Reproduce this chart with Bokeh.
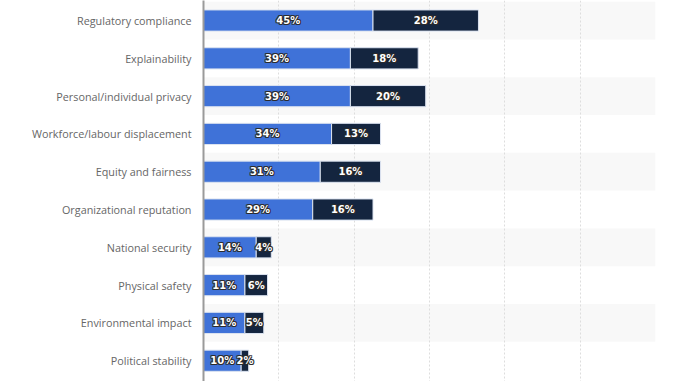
from bokeh.plotting import figure
from bokeh.models import ColumnDataSource, Range1d, FixedTicker
from bokeh.core.properties import value
from bokeh.embed import file_html
from bokeh.resources import INLINE

categories = [
    "Regulatory compliance",
    "Explainability",
    "Personal/individual privacy",
    "Workforce/labour displacement",
    "Equity and fairness",
    "Organizational reputation",
    "National security",
    "Physical safety",
    "Environmental impact",
    "Political stability",
]
series_a = [45, 39, 39, 34, 31, 29, 14, 11, 11, 10]
series_b = [28, 18, 20, 13, 16, 16, 4, 6, 5, 2]
x_ticks = [20, 40, 60, 80, 100, 120]

BLUE = "#3f72d8"
NAVY = "#14253f"

rows = list(range(len(categories)))
totals = [a + b for a, b in zip(series_a, series_b)]

p = figure(
    width=678, height=381,
    x_range=Range1d(0, 120),
    y_range=Range1d(9.55, -0.53),
    output_backend="svg", toolbar_location=None,
    min_border_left=203, min_border_right=23,
    min_border_top=0, min_border_bottom=0,
)
p.outline_line_color = None
p.background_fill_color = "white"

# alternating row bands
band_rows = [r for r in rows if r % 2 == 0]
bands = p.hbar(y=band_rows, left=0, right=120, height=1.0,
               fill_color="#f8f8f8", line_color=None)
bands.level = "image"

src = ColumnDataSource(dict(
    y=rows, a=series_a, b=series_b, tot=totals,
    a_mid=[a / 2 for a in series_a],
    b_mid=[a + b / 2 for a, b in zip(series_a, series_b)],
    a_lab=[f"{a}%" for a in series_a],
    b_lab=[f"{b}%" for b in series_b],
))

p.hbar(y="y", left=0, right="a", height=0.56, source=src,
       fill_color=BLUE, line_color="#dbe3f0", line_width=1)
p.hbar(y="y", left="a", right="tot", height=0.56, source=src,
       fill_color=NAVY, line_color="#dbe3f0", line_width=1)

offsets = [(-1, -1), (0, -1), (1, -1), (-1, 0), (1, 0), (-1, 1), (0, 1), (1, 1)]
for xcol, lcol in (("a_mid", "a_lab"), ("b_mid", "b_lab")):
    common = dict(x=xcol, y="y", text=lcol, source=src,
                  text_align="center", text_baseline="middle",
                  text_font=value("DejaVu Sans"), text_font_size="10px",
                  text_font_style="bold")
    for dx, dy in offsets:
        p.text(x_offset=dx, y_offset=dy, text_color="#2b2b2b",
               text_alpha=0.85, **common)
    p.text(text_color="white", **common)

# axes
p.xaxis.visible = False
p.yaxis.ticker = FixedTicker(ticks=rows)
p.yaxis.major_label_overrides = {i: c for i, c in enumerate(categories)}
p.yaxis.major_tick_line_color = None
p.yaxis.minor_tick_line_color = None
p.yaxis.axis_line_color = "#9a9a9a"
p.yaxis.axis_line_width = 2
p.yaxis.major_label_standoff = 6
p.yaxis.major_label_text_font = "Open Sans"
p.yaxis.major_label_text_font_size = "10.8px"
p.yaxis.major_label_text_color = "#666666"

p.ygrid.visible = False
p.xgrid.ticker = FixedTicker(ticks=x_ticks)
p.xgrid.grid_line_color = "#dddddd"
p.xgrid.grid_line_dash = "2 2"
p.xgrid.grid_line_width = 1

open("out.html", "w").write(file_html(p, INLINE))
